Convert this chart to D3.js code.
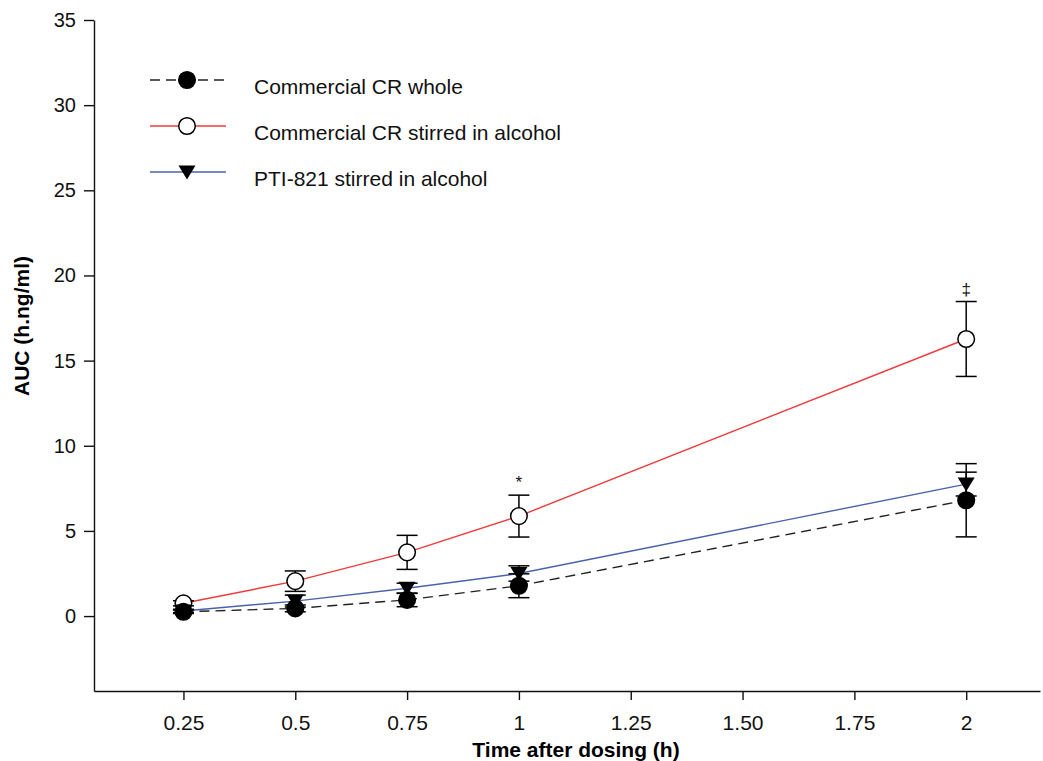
<!DOCTYPE html>
<html>
<head>
<meta charset="utf-8">
<script src="https://cdn.jsdelivr.net/npm/d3@7"></script>
<style>
  body { margin: 0; background: #fff; }
  svg { display: block; font-family: "Liberation Sans", Arial, Helvetica, sans-serif; }
</style>
</head>
<body>
<svg id="chart" width="1043" height="761"></svg>
<script>
// values (AUC, h.ng/ml)
var times = [0.25, 0.5, 0.75, 1, 2];
var xTickValues = [0.25, 0.5, 0.75, 1, 1.25, 1.5, 1.75, 2];
var xTickLabels = ["0.25", "0.5", "0.75", "1", "1.25", "1.50", "1.75", "2"];
var yTickValues = [0, 5, 10, 15, 20, 25, 30, 35];

var crWhole = [0.25, 0.45, 0.95, 1.78, 6.8];
var crWholeErr = [0.1, 0.2, 0.4, 0.7, 2.15];
var crAlcohol = [0.75, 2.05, 3.74, 5.87, 16.27];
var crAlcoholErr = [0.15, 0.6, 1.0, 1.23, 2.2];
var pti = [0.3, 0.88, 1.63, 2.5, 7.75];
var ptiErr = [0.1, 0.35, 0.3, 0.45, 0.7];

var seriesNames = ["Commercial CR whole", "Commercial CR stirred in alcohol", "PTI-821 stirred in alcohol"];
var marks = [{ index: 3, label: "*" }, { index: 4, label: "\u2021" }]; // on the alcohol series

var svg = d3.select("#chart");

var x = d3.scaleLinear().domain([0.05, 2.165]).range([94, 1040]);
var y = d3.scaleLinear().domain([-4.4, 35]).range([691, 20]);

function build(values, errs) {
    return times.map(function (t, i) { return { t: t, v: values[i], e: errs[i] }; });
}

var series = [
    { name: seriesNames[1], data: build(crAlcohol, crAlcoholErr), color: "#f03a3a", dash: null, marker: "open" },
    { name: seriesNames[2], data: build(pti, ptiErr), color: "#4a62ad", dash: null, marker: "tri" },
    { name: seriesNames[0], data: build(crWhole, crWholeErr), color: "#222", dash: "10,6", marker: "filled" }
];

// axes
var yAxis = d3.axisLeft(y).tickValues(yTickValues).tickSize(10).tickSizeOuter(0).tickPadding(8);
var xAxis = d3.axisBottom(x).tickValues(xTickValues).tickSize(9).tickSizeOuter(0).tickPadding(15)
    .tickFormat(function (d, i) { return xTickLabels[i]; });

var gy = svg.append("g").attr("transform", "translate(94,0)").call(yAxis);
var gx = svg.append("g").attr("transform", "translate(0,691)").call(xAxis);
[gx, gy].forEach(function (g) {
    g.selectAll("path, line").attr("stroke", "#111").attr("stroke-width", 1.4);
    g.selectAll("text").attr("fill", "#111")
        .style("font-family", "'Liberation Sans', Arial, sans-serif");
});
gy.selectAll("text").attr("font-size", 20);
gx.selectAll("text").attr("font-size", 21);

svg.append("text").attr("x", 576).attr("y", 757).attr("text-anchor", "middle")
    .attr("font-size", 21).attr("font-weight", "bold").text("Time after dosing (h)");
svg.append("text").attr("transform", "translate(29,326) rotate(-90)").attr("text-anchor", "middle")
    .attr("font-size", 21).attr("font-weight", "bold").text("AUC (h.ng/ml)");

var line = d3.line().x(function (d) { return x(d.t); }).y(function (d) { return y(d.v); });

function drawMarker(g, kind, cx, cy) {
    if (kind === "tri") {
        g.append("path")
            .attr("d", "M" + (cx - 8.5) + "," + (cy - 6.5) + "L" + (cx + 8.5) + "," + (cy - 6.5) + "L" + cx + "," + (cy + 7.5) + "Z")
            .attr("fill", "#000");
    } else {
        g.append("circle").attr("cx", cx).attr("cy", cy).attr("r", 8.3)
            .attr("fill", kind === "open" ? "#fff" : "#000")
            .attr("stroke", "#000").attr("stroke-width", 1.5);
    }
}

// lines first, then error bars, then markers
var plot = svg.append("g");
series.forEach(function (s) {
    plot.append("path").datum(s.data).attr("d", line)
        .attr("fill", "none").attr("stroke", s.color).attr("stroke-width", 1.4)
        .attr("stroke-dasharray", s.dash);
});

series.forEach(function (s) {
    var eg = plot.append("g").attr("stroke", "#000").attr("stroke-width", 1.5);
    s.data.forEach(function (d) {
        var px = x(d.t), top = y(d.v + d.e), bot = y(d.v - d.e);
        eg.append("line").attr("x1", px).attr("x2", px).attr("y1", top).attr("y2", bot);
        eg.append("line").attr("x1", px - 10.5).attr("x2", px + 10.5).attr("y1", top).attr("y2", top);
        eg.append("line").attr("x1", px - 10.5).attr("x2", px + 10.5).attr("y1", bot).attr("y2", bot);
    });
    var mg = plot.append("g");
    s.data.forEach(function (d) { drawMarker(mg, s.marker, x(d.t), y(d.v)); });
});

// significance marks above the alcohol series
var alc = series[0].data;
marks.forEach(function (m) {
    var d = alc[m.index];
    svg.append("text").attr("x", x(d.t)).attr("y", y(d.v + d.e) - 7)
        .attr("text-anchor", "middle").attr("font-size", 17).attr("fill", "#111").text(m.label);
});

// legend
var legendRows = [series[2], series[0], series[1]];
var legend = svg.append("g");
legendRows.forEach(function (s, i) {
    var ly = 80 + i * 46;
    legend.append("line").attr("x1", 150).attr("x2", 226).attr("y1", ly).attr("y2", ly)
        .attr("stroke", s.color).attr("stroke-width", 1.4).attr("stroke-dasharray", s.dash);
    drawMarker(legend, s.marker, 187, ly);
    legend.append("text").attr("x", 254).attr("y", ly + 14).attr("font-size", 21).attr("fill", "#111").text(s.name);
});
</script>
</body>
</html>
